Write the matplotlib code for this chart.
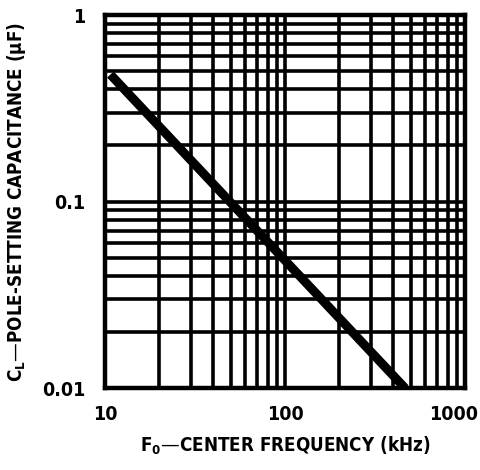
import matplotlib
matplotlib.use("Agg")
import matplotlib.pyplot as plt
import matplotlib.transforms as mtransforms
from matplotlib.ticker import LogLocator, NullFormatter, FixedLocator

# Pole-setting capacitance vs center frequency
freq_khz = [10.7, 464]
cap_uf = [0.48, 0.01]

x_ticks = [10, 100, 1000]
x_labels = ["10", "100", "1000"]
y_ticks = [0.01, 0.1, 1]
y_labels = ["0.01", "0.1", "1"]

font = dict(family="DejaVu Sans", fontweight="bold", fontstretch="condensed")

fig = plt.figure(figsize=(4.8, 4.7), dpi=100)
ax = fig.add_axes([0.219, 0.174, 0.75, 0.794])
ax.set_xscale("log")
ax.set_yscale("log")
ax.set_xlim(10, 1000)
ax.set_ylim(0.01, 1)

ax.xaxis.set_major_locator(FixedLocator(x_ticks))
ax.yaxis.set_major_locator(FixedLocator(y_ticks))
ax.xaxis.set_minor_locator(LogLocator(base=10, subs=range(2, 10)))
ax.yaxis.set_minor_locator(LogLocator(base=10, subs=range(2, 10)))
ax.xaxis.set_minor_formatter(NullFormatter())
ax.yaxis.set_minor_formatter(NullFormatter())
ax.set_xticklabels(x_labels, fontsize=14, **font)
ax.set_yticklabels(y_labels, fontsize=14, **font)
ax.tick_params(which="both", length=0)
ax.tick_params(axis="x", pad=12)
ax.tick_params(axis="y", pad=14)

# last x label sits a bit left of the right border in the original
lbl = ax.get_xticklabels()[-1]
lbl.set_transform(lbl.get_transform() + mtransforms.ScaledTranslation(-12 / 100, 0, fig.dpi_scale_trans))

ax.grid(True, which="both", color="black", linewidth=2.6)
for s in ax.spines.values():
    s.set_linewidth(3.2)

ax.plot(freq_khz, cap_uf, color="black", linewidth=6.5, solid_capstyle="butt")

ax.set_xlabel("F$_\\mathregular{0}$—CENTER FREQUENCY (kHz)", fontsize=13.5, labelpad=8, **font)
ax.set_ylabel("C$_\\mathregular{L}$—POLE-SETTING CAPACITANCE (µF)", fontsize=13.5, labelpad=10, **font)

fig.savefig("out.png", dpi=100)
